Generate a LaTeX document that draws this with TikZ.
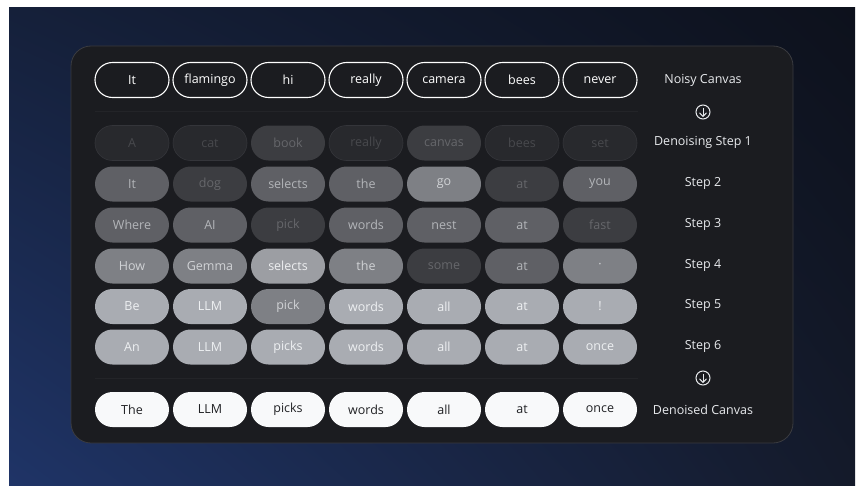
\documentclass[tikz,border=0pt]{standalone}
\usepackage{fontspec}
\setmainfont{Open Sans}
\usepackage{tikz}
\usetikzlibrary{shadings}

\definecolor{bgul}{HTML}{15203A}
\definecolor{bgur}{HTML}{0D111C}
\definecolor{bgll}{HTML}{1F3467}
\definecolor{bglr}{HTML}{141A2A}
\definecolor{panel}{HTML}{1B1C20}
\definecolor{paneledge}{HTML}{3A3B40}
\definecolor{rule}{HTML}{232428}
\definecolor{labeltext}{HTML}{E8EAED}
\definecolor{pillwhite}{HTML}{F8F9FA}
\definecolor{textdark}{HTML}{202124}
\definecolor{g0}{HTML}{28292D}
\definecolor{g0edge}{HTML}{34353A}
\definecolor{t0}{HTML}{48494D}
\definecolor{g1}{HTML}{3C3D41}
\definecolor{t1}{HTML}{66676B}
\definecolor{g2}{HTML}{5F6065}
\definecolor{t2}{HTML}{B3B5B9}
\definecolor{g3}{HTML}{7E8085}
\definecolor{t3}{HTML}{D0D2D5}
\definecolor{g4}{HTML}{9C9EA3}
\definecolor{t4}{HTML}{EEEFF1}
\definecolor{g5}{HTML}{A9ACB2}
\definecolor{t5}{HTML}{EEF0F2}

\tikzset{
  pill/.style={rectangle, rounded corners=17.5pt, minimum width=74pt,
    minimum height=35pt, inner sep=0pt, font=\fontsize{12.5}{14}\selectfont},
  noisy/.style={pill, draw=white, line width=1.1pt, text=white},
  cleaned/.style={pill, fill=pillwhite, text=textdark},
  c0/.style={pill, fill=g0, draw=g0edge, line width=0.6pt, text=t0},
  c1/.style={pill, fill=g1, text=t1},
  c2/.style={pill, fill=g2, text=t2},
  c3/.style={pill, fill=g3, text=t3},
  c4/.style={pill, fill=g4, text=t4},
  c5/.style={pill, fill=g5, text=t5},
  steplabel/.style={text=labeltext, font=\fontsize{12.5}{14}\selectfont},
  downicon/.style={circle, draw=labeltext, line width=1pt, minimum size=14pt, inner sep=0pt},
}

\begin{document}
\begin{tikzpicture}[x=1pt, y=-1pt]
\useasboundingbox (0,0) rectangle (860,495);
\fill[white] (0,0) rectangle (860,495);
\shade[upper left=bgul, upper right=bgur, lower left=bgll, lower right=bglr] (9,8) rectangle (855,485);

% panel
\draw[fill=panel, draw=paneledge, line width=0.8pt, rounded corners=20pt] (71,46) rectangle (793,443);
\draw[rule, line width=0.8pt] (95,111) -- (638,111);
\draw[rule, line width=0.8pt] (95,378) -- (638,378);

% noisy canvas
\foreach \w [count=\i] in {It, flamingo, hi, really, camera, bees, never}
  \node[noisy] (n\i) at ({132+78*(\i-1)}, 80) {\w};

% denoising steps
\foreach \w/\s [count=\i] in {A/c0, cat/c0, book/c1, really/c0, canvas/c1, bees/c0, set/c0}
  \node[\s] (sa\i) at ({132+78*(\i-1)}, 143) {\w};
\foreach \w/\s [count=\i] in {It/c2, dog/c1, selects/c2, the/c2, go/c3, at/c1, you/c2}
  \node[\s] (sb\i) at ({132+78*(\i-1)}, 184) {\w};
\foreach \w/\s [count=\i] in {Where/c2, AI/c2, pick/c1, words/c2, nest/c2, at/c2, fast/c1}
  \node[\s] (sc\i) at ({132+78*(\i-1)}, 225) {\w};
\foreach \w/\s [count=\i] in {How/c3, Gemma/c3, selects/c4, the/c3, some/c1, at/c2, ·/c3}
  \node[\s] (sd\i) at ({132+78*(\i-1)}, 266) {\w};
\foreach \w/\s [count=\i] in {Be/c5, LLM/c5, pick/c3, words/c5, all/c5, at/c5, !/c5}
  \node[\s] (se\i) at ({132+78*(\i-1)}, 306.5) {\w};
\foreach \w/\s [count=\i] in {An/c5, LLM/c5, picks/c5, words/c5, all/c5, at/c5, once/c5}
  \node[\s] (sf\i) at ({132+78*(\i-1)}, 347) {\w};

% denoised canvas
\foreach \w [count=\i] in {The, LLM, picks, words, all, at, once}
  \node[cleaned] (d\i) at ({132+78*(\i-1)}, 409.5) {\w};

% labels on the right
\node[steplabel] (lnoisy) at (703,80) {Noisy Canvas};
\node[downicon] (arrtop) at (703,112) {};
\node[steplabel] (lsa) at (703,142) {Denoising Step 1};
\node[steplabel] (lsb) at (703,183) {Step 2};
\node[steplabel] (lsc) at (703,224) {Step 3};
\node[steplabel] (lsd) at (703,265) {Step 4};
\node[steplabel] (lse) at (703,305.5) {Step 5};
\node[steplabel] (lsf) at (703,346) {Step 6};
\node[downicon] (arrbot) at (703,378) {};
\node[steplabel] (ldone) at (703,409.5) {Denoised Canvas};

% arrows inside the icons
\foreach \a in {arrtop, arrbot} {
  \draw[labeltext, line width=1pt] ([yshift=4.2pt]\a.center) -- ([yshift=-4.2pt]\a.center);
  \draw[labeltext, line width=1pt, line cap=round, line join=round]
    ([xshift=-3.3pt, yshift=-1pt]\a.center) -- ([yshift=-4.4pt]\a.center) -- ([xshift=3.3pt, yshift=-1pt]\a.center);
}
\end{tikzpicture}
\end{document}
